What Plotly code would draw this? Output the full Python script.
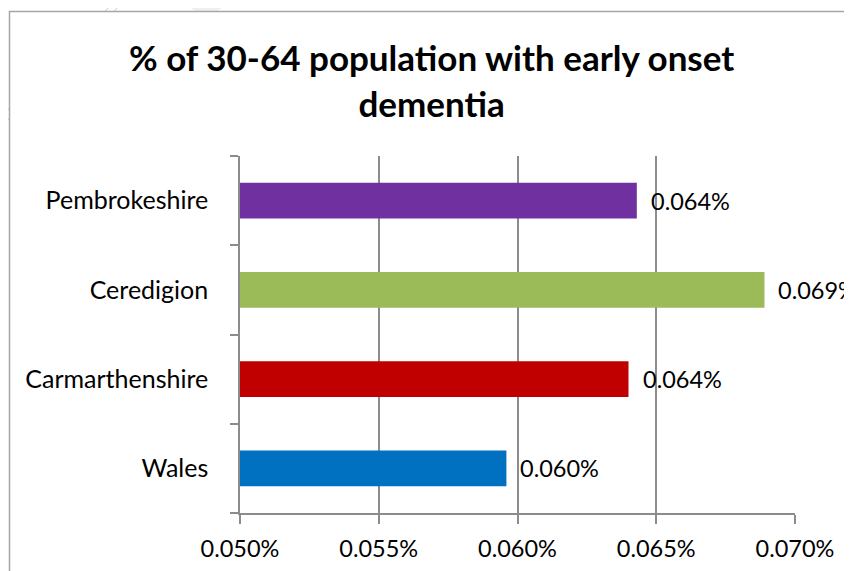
import plotly.graph_objects as go

categories = ["Wales", "Carmarthenshire", "Ceredigion", "Pembrokeshire"]
values = [0.0596, 0.0640, 0.0689, 0.0643]          # % of 30-64 population
value_labels = ["0.060%", "0.064%", "0.069%", "0.064%"]
colors = ["#0070C0", "#C00000", "#9BBB59", "#7030A0"]
x_ticks = [0.050, 0.055, 0.060, 0.065, 0.070]
x_tick_labels = ["0.050%", "0.055%", "0.060%", "0.065%", "0.070%"]
title_text = "% of 30-64 population with early onset<br>dementia"

FONT = "Lato"
GRID = "#8c8c8c"

fig = go.Figure()
fig.add_trace(go.Bar(
    y=categories, x=values, orientation="h",
    marker=dict(color=colors, line=dict(width=0)),
    width=0.4, showlegend=False,
))

W, H = 852, 571
OFF = 8  # page offset of the figure
L, R, T, B = 232, 65, 148, 66
pw, ph = W - L - R, H - T - B

def px(x):
    return (x - OFF - L) / pw

def py(y):
    return (H - B - (y - OFF)) / ph

shapes = [
    dict(type="line", xref="paper", yref="paper", x0=px(118), y0=py(-2), x1=px(-2), y1=py(120),
         line=dict(color="#c8c8c8", width=1), layer="below"),
    dict(type="line", xref="paper", yref="paper", x0=px(127), y0=py(-2), x1=px(-2), y1=py(130),
         line=dict(color="#c8c8c8", width=1), layer="below"),
    dict(type="path", xref="paper", yref="paper",
         path=f"M {px(180)} {py(-2)} L {px(234)} {py(-2)} L {px(214)} {py(14)} L {px(198)} {py(14)} Z",
         fillcolor="#efefef", line=dict(width=0), layer="below"),
    dict(type="rect", xref="paper", yref="paper", x0=px(9.5), y0=py(11.5), x1=px(880), y1=py(600),
         fillcolor="white", line=dict(color="#a6a6a6", width=1.5), layer="below"),
]

annotations = [dict(
    x=px(431), y=py(34), xref="paper", yref="paper", text=title_text, showarrow=False,
    xanchor="center", yanchor="top", align="center",
    font=dict(family=FONT, size=35, color="#000000", weight="bold"),
)]
for c, v, t in zip(categories, values, value_labels):
    annotations.append(dict(x=v, y=c, xref="x", yref="y", text=t, showarrow=False,
                            xanchor="left", yanchor="middle", xshift=12,
                            font=dict(family=FONT, size=23.5, color="#000000")))

fig.update_layout(
    width=W, height=H,
    margin=dict(l=L, r=R, t=T, b=B, pad=0),
    paper_bgcolor="white", plot_bgcolor="rgba(0,0,0,0)",
    shapes=shapes,
    annotations=annotations,
    bargap=0.6,
)
fig.update_xaxes(
    range=[0.050, 0.070], tickvals=x_ticks, ticktext=x_tick_labels,
    showgrid=True, gridcolor=GRID, gridwidth=1.5,
    showline=True, linecolor=GRID, linewidth=1.5,
    ticks="outside", ticklen=9, tickcolor=GRID, tickwidth=1.5,
    ticklabelstandoff=5,
    tickfont=dict(family=FONT, size=23.5, color="#000000"),
    zeroline=False, fixedrange=True,
)
fig.update_yaxes(
    type="category", categoryorder="array", categoryarray=categories,
    showgrid=False, showline=True, linecolor=GRID, linewidth=1.5,
    ticks="outside", ticklen=8, tickcolor=GRID, tickwidth=1.5, tickson="boundaries",
    ticklabelstandoff=25,
    tickfont=dict(family=FONT, size=25, color="#000000"),
    zeroline=False, fixedrange=True,
)

fig.write_html("out.html")
